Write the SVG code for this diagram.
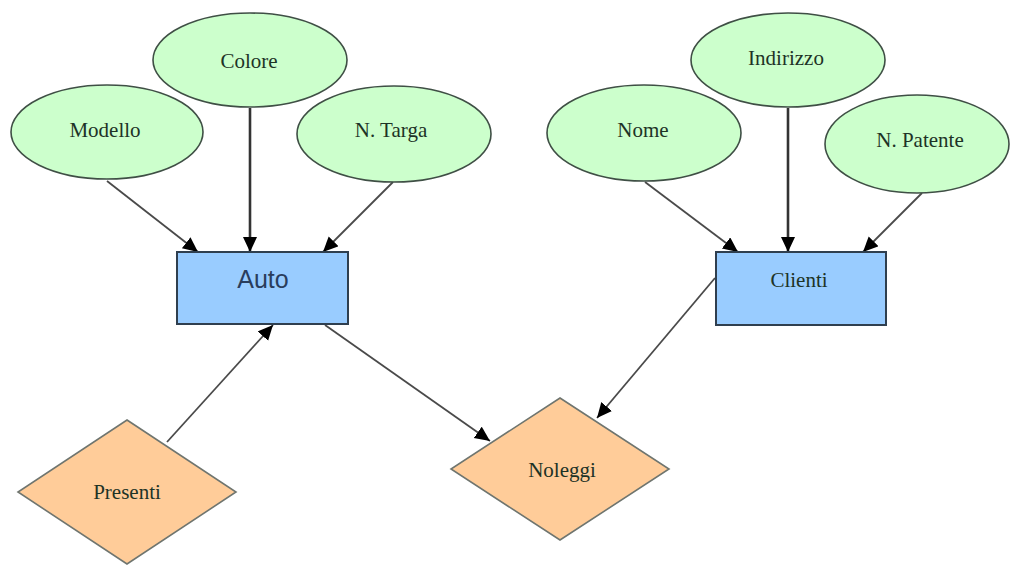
<svg xmlns="http://www.w3.org/2000/svg" width="1010" height="566" viewBox="0 0 1010 566">
  <style>
    .attr { fill: #ccffcc; stroke: #3f4f45; stroke-width: 1.6; }
    .entity { fill: #99ccff; stroke: #2f3f4f; stroke-width: 2; }
    .rel { fill: #ffcc99; stroke: #6f756f; stroke-width: 1.6; }
    .lbl { font-family: "Liberation Serif", "Times New Roman", serif; font-size: 21px; fill: #1d3326; text-anchor: middle; }
    .lbl-sans { font-family: "Liberation Sans", Arial, sans-serif; font-size: 25px; fill: #2a3d5c; text-anchor: middle; }
    .edge { stroke: #4a4a4a; stroke-width: 1.8; fill: none; marker-end: url(#arrow); }
    .edge-bold { stroke: #333; stroke-width: 2.6; fill: none; marker-end: url(#arrow); }
  </style>
  <defs>
    <marker id="arrow" markerUnits="userSpaceOnUse" markerWidth="16" markerHeight="16" refX="15" refY="7" orient="auto">
      <path d="M0,0 L15,7 L0,14 Z" fill="#000"/>
    </marker>
  </defs>

  <rect width="1010" height="566" fill="#ffffff"/>

  <!-- connectors -->
  <g id="connectors">
    <line class="edge" x1="107" y1="181" x2="198" y2="252"/>
    <line class="edge-bold" x1="250" y1="108" x2="250" y2="252"/>
    <line class="edge" x1="393" y1="182" x2="323" y2="252"/>
    <line class="edge" x1="645" y1="182" x2="738" y2="252"/>
    <line class="edge-bold" x1="788" y1="108" x2="788" y2="252"/>
    <line class="edge" x1="922" y1="193" x2="863" y2="252"/>
    <line class="edge" x1="715" y1="278" x2="597" y2="418"/>
    <line class="edge" x1="325" y1="325" x2="490" y2="441"/>
    <line class="edge" x1="167" y1="442" x2="273" y2="325"/>
  </g>

  <!-- Auto and its attributes -->
  <g id="colore">
    <ellipse class="attr" cx="250" cy="60" rx="97" ry="47"/>
    <text class="lbl" x="249" y="68">Colore</text>
  </g>
  <g id="modello">
    <ellipse class="attr" cx="107" cy="132" rx="96" ry="47"/>
    <text class="lbl" x="105" y="137">Modello</text>
  </g>
  <g id="n-targa">
    <ellipse class="attr" cx="394" cy="134" rx="97" ry="48"/>
    <text class="lbl" x="391" y="137">N. Targa</text>
  </g>
  <g id="auto">
    <rect class="entity" x="177" y="252" width="171" height="72"/>
    <text class="lbl-sans" x="263" y="288">Auto</text>
  </g>

  <!-- Clienti and its attributes -->
  <g id="indirizzo">
    <ellipse class="attr" cx="788" cy="60" rx="97" ry="47"/>
    <text class="lbl" x="786" y="65">Indirizzo</text>
  </g>
  <g id="nome">
    <ellipse class="attr" cx="644" cy="133" rx="97" ry="48"/>
    <text class="lbl" x="643" y="137">Nome</text>
  </g>
  <g id="n-patente">
    <ellipse class="attr" cx="917" cy="144" rx="92" ry="49"/>
    <text class="lbl" x="920" y="147">N. Patente</text>
  </g>
  <g id="clienti">
    <rect class="entity" x="716" y="252" width="170" height="73"/>
    <text class="lbl" x="799" y="287">Clienti</text>
  </g>

  <!-- relationships -->
  <g id="presenti">
    <polygon class="rel" points="127,420 236,492 127,564 18,492"/>
    <text class="lbl" x="127" y="499">Presenti</text>
  </g>
  <g id="noleggi">
    <polygon class="rel" points="560,398 669,469 560,540 451,469"/>
    <text class="lbl" x="562" y="477">Noleggi</text>
  </g>
</svg>
